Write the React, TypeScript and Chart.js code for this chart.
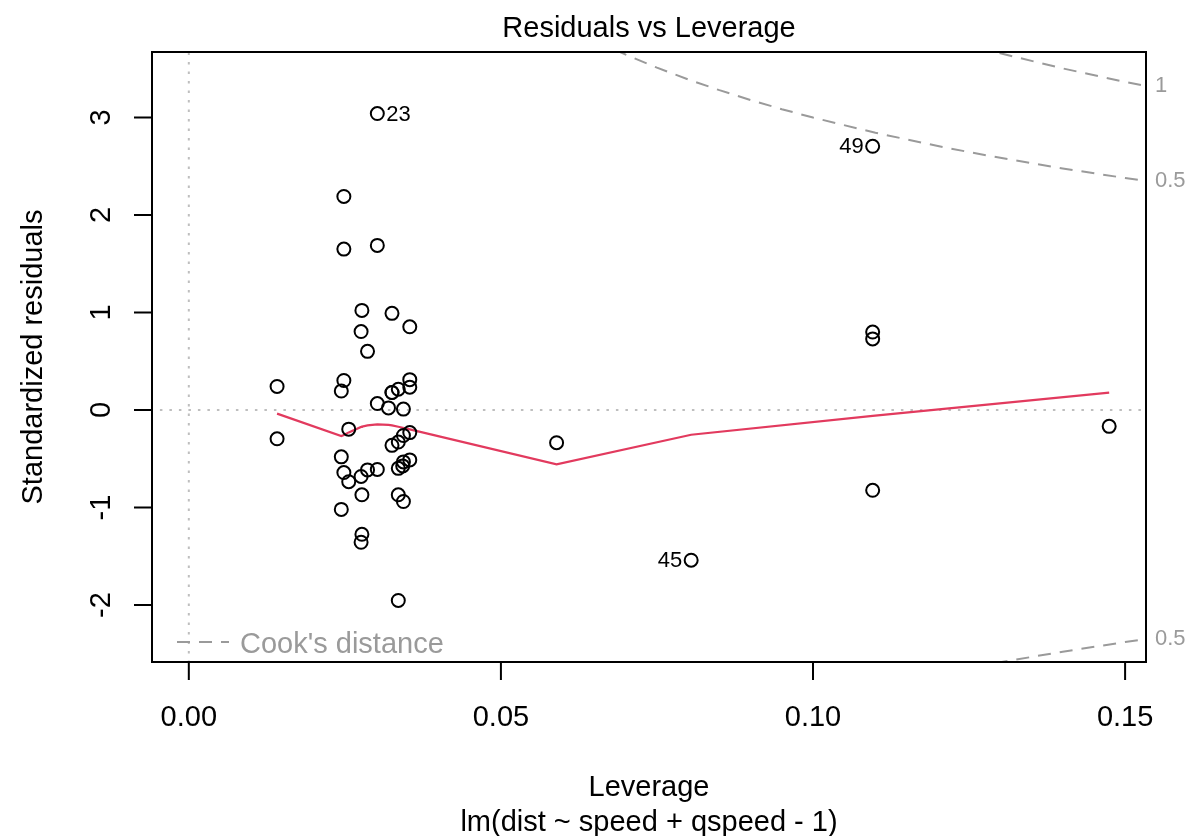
import React, { useEffect, useRef } from "react";
import { Chart, registerables } from "chart.js";

Chart.register(...registerables);

// ---- data (cars: lm(dist ~ speed + qspeed - 1)) ----
const leverage = [
  0.01414, 0.01414, 0.02863, 0.02863, 0.03199, 0.03427, 0.0354, 0.0354, 0.0354, 0.0354,
  0.0354, 0.03438, 0.03438, 0.03438, 0.03438, 0.03255, 0.03255, 0.03255, 0.03255, 0.0302,
  0.0302, 0.0302, 0.0302, 0.02773, 0.02773, 0.02773, 0.02562, 0.02562, 0.02443, 0.02443,
  0.02443, 0.02484, 0.02484, 0.02484, 0.02484, 0.0276, 0.0276, 0.0276, 0.03356, 0.03356,
  0.03356, 0.03356, 0.03356, 0.05892, 0.08048, 0.10956, 0.10956, 0.10956, 0.10956, 0.14745,
];
const stdResid = [
  -0.295, 0.242, -0.614, 0.602, 0.022, -0.573, -0.231, 0.312, 0.854, -0.511,
  0.235, -0.938, -0.532, -0.261, 0.01, -0.362, 0.18, 0.18, 0.992, -0.609,
  0.067, 1.689, 3.041, -1.274, -0.869, 1.022, -0.735, -0.196, -1.019, -0.48,
  0.195, -0.641, 0.303, 1.651, 2.191, -1.356, -0.681, 0.805, -1.953, -0.869,
  -0.598, -0.328, 0.214, -0.335, -1.54, -0.823, 0.73, 0.8, 2.705, -0.167,
];
const smoothLev = [
  0.01414, 0.02443, 0.02484, 0.02562, 0.0276, 0.02773, 0.02863, 0.0302, 0.03199,
  0.03255, 0.03356, 0.03427, 0.03438, 0.0354, 0.05892, 0.08048, 0.10956, 0.14745,
];
const smoothRes = [
  -0.037, -0.267, -0.255, -0.229, -0.173, -0.17, -0.157, -0.147, -0.152,
  -0.157, -0.171, -0.181, -0.183, -0.198, -0.557, -0.253, -0.06, 0.179,
];
const cookLev = [0.065, 0.0675, 0.07, 0.075, 0.08, 0.085, 0.09, 0.095, 0.1, 0.11, 0.12, 0.125, 0.13, 0.14, 0.15, 0.1534];
const cookHalf = [3.793, 3.717, 3.645, 3.512, 3.391, 3.281, 3.18, 3.086, 3.0, 2.844, 2.708, 2.646, 2.587, 2.478, 2.38, 2.349];
const cookOne = [5.364, 5.257, 5.155, 4.967, 4.796, 4.64, 4.497, 4.364, 4.243, 4.022, 3.83, 3.742, 3.659, 3.504, 3.366, 3.322];
const cookLabels = ["0.5", "1"];
const labelIds = [23, 49, 45];

const xTicks = [0, 0.05, 0.1, 0.15];
const xTickLabels = ["0.00", "0.05", "0.10", "0.15"];
const yTicks = [-2, -1, 0, 1, 2, 3];
const yTickLabels = ["-2", "-1", "0", "1", "2", "3"];
const xLimits = [-0.0058982, 0.153348];
const yLimits = [-2.5841, 3.6724];

const title = "Residuals vs Leverage";
const xTitle = "Leverage";
const subTitle = "lm(dist ~ speed + qspeed - 1)";
const yTitle = "Standardized residuals";
const legendText = "Cook's distance";

const FONT = '"Liberation Sans", Arial, Helvetica, sans-serif';
const GREY = "#9A9A9A";
const DASH = [13, 9];

const decor = {
  id: "decor",
  afterDatasetsDraw(chart: any) {
    const { ctx, chartArea: a, scales } = chart;
    const x = scales.x;
    const y = scales.y;
    ctx.save();
    // box
    ctx.strokeStyle = "#000";
    ctx.lineWidth = 2;
    ctx.setLineDash([]);
    ctx.strokeRect(a.left, a.top, a.right - a.left, a.bottom - a.top);
    // ticks
    ctx.beginPath();
    xTicks.forEach((v) => {
      const px = x.getPixelForValue(v);
      ctx.moveTo(px, a.bottom);
      ctx.lineTo(px, a.bottom + 18);
    });
    yTicks.forEach((v) => {
      const py = y.getPixelForValue(v);
      ctx.moveTo(a.left, py);
      ctx.lineTo(a.left - 18, py);
    });
    ctx.stroke();

    ctx.fillStyle = "#000";
    ctx.font = `29px ${FONT}`;
    ctx.textAlign = "center";
    ctx.textBaseline = "alphabetic";
    xTicks.forEach((v, i) => {
      ctx.fillText(xTickLabels[i], x.getPixelForValue(v), a.bottom + 64);
    });
    yTicks.forEach((v, i) => {
      ctx.save();
      ctx.translate(a.left - 42, y.getPixelForValue(v));
      ctx.rotate(-Math.PI / 2);
      ctx.fillText(yTickLabels[i], 0, 0);
      ctx.restore();
    });
    const cx = (a.left + a.right) / 2;
    ctx.fillText(title, cx, 37);
    ctx.fillText(xTitle, cx, 796);
    ctx.fillText(subTitle, cx, 831);
    ctx.save();
    ctx.translate(42, (a.top + a.bottom) / 2);
    ctx.rotate(-Math.PI / 2);
    ctx.fillText(yTitle, 0, 0);
    ctx.restore();

    // point labels
    ctx.font = `22px ${FONT}`;
    ctx.textBaseline = "middle";
    const mid = (xLimits[0] + xLimits[1]) / 2;
    labelIds.forEach((id) => {
      const lv = leverage[id - 1];
      const px = x.getPixelForValue(lv);
      const py = y.getPixelForValue(stdResid[id - 1]);
      if (lv > mid) {
        ctx.textAlign = "right";
        ctx.fillText(String(id), px - 9, py + 1);
      } else {
        ctx.textAlign = "left";
        ctx.fillText(String(id), px + 9, py + 1);
      }
    });

    // Cook's labels on right
    ctx.fillStyle = GREY;
    ctx.textAlign = "left";
    const last = cookLev.length - 1;
    ctx.fillText(cookLabels[1], a.right + 9, y.getPixelForValue(cookOne[last]));
    ctx.fillText(cookLabels[0], a.right + 9, y.getPixelForValue(cookHalf[last]));
    ctx.fillText(cookLabels[0], a.right + 9, y.getPixelForValue(-cookHalf[last]));

    // legend
    ctx.strokeStyle = GREY;
    ctx.lineWidth = 2;
    ctx.setLineDash(DASH);
    ctx.beginPath();
    ctx.moveTo(a.left + 25, a.bottom - 20);
    ctx.lineTo(a.left + 77, a.bottom - 20);
    ctx.stroke();
    ctx.setLineDash([]);
    ctx.font = `29px ${FONT}`;
    ctx.textBaseline = "alphabetic";
    ctx.fillText(legendText, a.left + 88, a.bottom - 9);
    ctx.restore();
  },
};

export default function App() {
  const ref = useRef<HTMLCanvasElement | null>(null);
  useEffect(() => {
    if (!ref.current) return;
    const pts = leverage.map((h, i) => ({ x: h, y: stdResid[i] }));
    const smooth = smoothLev.map((h, i) => ({ x: h, y: smoothRes[i] }));
    const c05 = cookLev.map((h, i) => ({ x: h, y: cookHalf[i] }));
    const c1 = cookLev.map((h, i) => ({ x: h, y: cookOne[i] }));
    const c05n = cookLev.map((h, i) => ({ x: h, y: -cookHalf[i] }));
    const c1n = cookLev.map((h, i) => ({ x: h, y: -cookOne[i] }));
    const lineDs = (data: any[], color: string, dash: number[], width: number, order: number) => ({
      data,
      showLine: true,
      borderColor: color,
      backgroundColor: color,
      borderWidth: width,
      borderDash: dash,
      pointRadius: 0,
      fill: false,
      order,
    });
    const chart = new Chart(ref.current, {
      type: "scatter",
      data: {
        datasets: [
          {
            data: pts,
            pointStyle: "circle",
            pointRadius: 6.5,
            pointBorderWidth: 2,
            pointBorderColor: "#000",
            pointBackgroundColor: "rgba(0,0,0,0)",
            borderColor: "#000",
            backgroundColor: "rgba(0,0,0,0)",
            showLine: false,
            order: 0,
          } as any,
          lineDs(smooth, "#E23A5E", [], 2.2, 1),
          lineDs(c05, GREY, DASH, 2, 2),
          lineDs(c1, GREY, DASH, 2, 2),
          lineDs(c05n, GREY, DASH, 2, 2),
          lineDs(c1n, GREY, DASH, 2, 2),
          lineDs([{ x: 0, y: -10 }, { x: 0, y: 10 }], "#BEBEBE", [2.5, 7], 2, 3),
          lineDs([{ x: -1, y: 0 }, { x: 1, y: 0 }], "#BEBEBE", [2.5, 7], 2, 3),
        ],
      },
      options: {
        animation: false,
        responsive: false,
        devicePixelRatio: 1,
        events: [],
        layout: { padding: { left: 152, top: 52, right: 41, bottom: 174 } },
        plugins: { legend: { display: false }, tooltip: { enabled: false } },
        scales: {
          x: { type: "linear", min: xLimits[0], max: xLimits[1], display: false },
          y: { type: "linear", min: yLimits[0], max: yLimits[1], display: false },
        },
      },
      plugins: [decor],
    } as any);
    return () => chart.destroy();
  }, []);
  return (
    <div style={{ position: "absolute", left: 0, top: 0, width: 1187, height: 836, background: "#fff" }}>
      <canvas ref={ref} width={1187} height={836} style={{ display: "block" }} />
    </div>
  );
}
